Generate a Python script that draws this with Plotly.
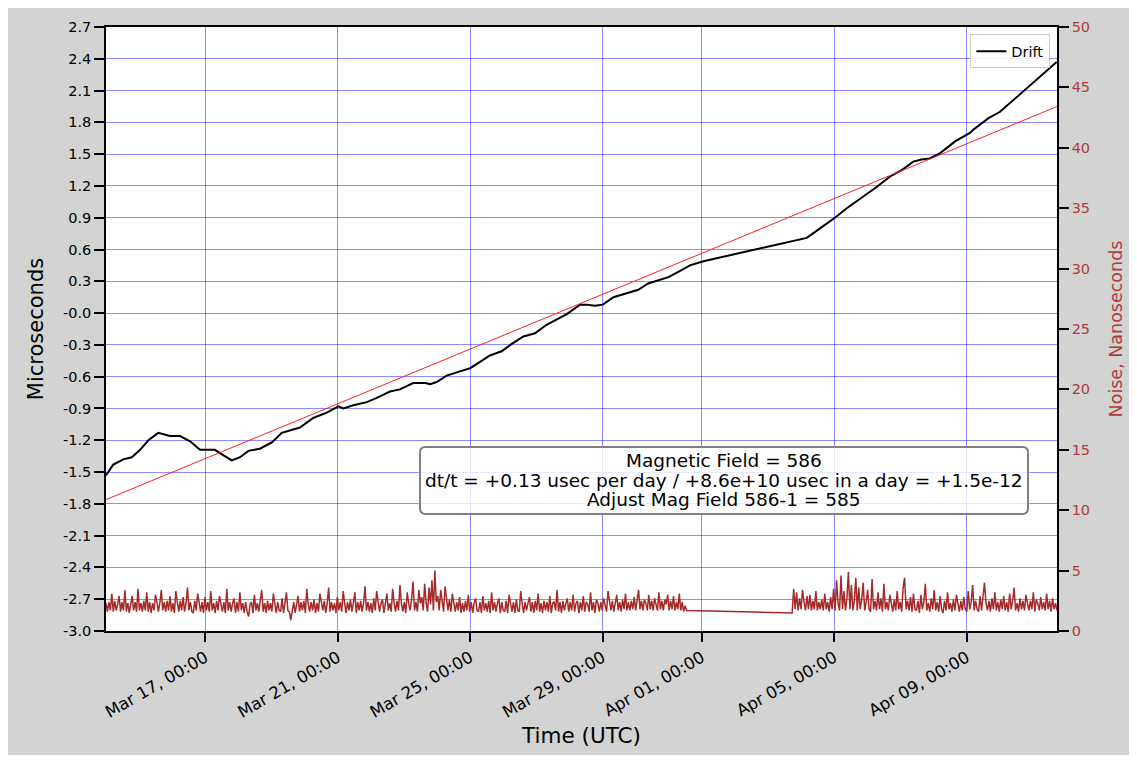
"""Clock drift vs. time with a linear fit, plus the noise trace on a twin axis."""

import numpy as np
import pandas as pd
import plotly.graph_objects as go

START = pd.Timestamp("2024-03-14 00:00")
END_DAY = 28.73  # last sample, days after START

# drift curve (microseconds), sampled at day offsets from START
drift_day = [
    0.00, 0.22, 0.52, 0.78, 1.03, 1.28, 1.58, 1.93, 2.24, 2.54, 2.84, 3.04, 3.29,
    3.54, 3.80, 4.05, 4.30, 4.65, 5.01, 5.31, 5.61, 5.86, 6.26, 6.67, 7.02, 7.17,
    7.47, 7.88, 8.18, 8.58, 8.88, 9.28, 9.64, 9.79, 9.99, 10.29, 10.69, 11.00,
    11.30, 11.60, 11.95, 12.26, 12.61, 12.96, 13.31, 13.62, 13.92, 14.32, 14.52,
    14.77, 15.01, 15.33, 15.73, 16.08, 16.38, 16.69, 16.99, 17.29, 17.64, 18.05,
    21.17, 21.57, 22.02, 22.38, 22.88, 23.28, 23.69, 24.04, 24.39, 24.64, 24.89,
    25.20, 25.65, 26.10, 26.20, 26.66, 27.01, 27.41, 27.82, 28.22, 28.72,
]
drift_usec = [
    -1.53, -1.43, -1.38, -1.36, -1.29, -1.20, -1.13, -1.16, -1.16, -1.21, -1.29,
    -1.29, -1.29, -1.34, -1.39, -1.36, -1.30, -1.28, -1.22, -1.13, -1.10, -1.08,
    -0.99, -0.94, -0.88, -0.90, -0.87, -0.84, -0.80, -0.74, -0.72, -0.66, -0.66,
    -0.67, -0.65, -0.59, -0.55, -0.52, -0.46, -0.40, -0.36, -0.29, -0.22, -0.19,
    -0.11, -0.06, -0.01, 0.08, 0.08, 0.07, 0.08, 0.15, 0.19, 0.22, 0.28, 0.31,
    0.34, 0.39, 0.45, 0.49, 0.71, 0.80, 0.90, 0.99, 1.10, 1.19, 1.29, 1.35, 1.43,
    1.45, 1.46, 1.51, 1.62, 1.70, 1.73, 1.84, 1.90, 2.01, 2.12, 2.23, 2.37,
]

# linear fit end points
fit_day = [0.0, END_DAY]
fit_usec = [-1.76, 1.95]

# noise (nanoseconds): two recording segments with a gap between them
noise_seg1_days = (0.0, 17.54)
noise_seg1 = [
    2.3, 1.6, 2.4, 1.7, 3.1, 1.6, 2.5, 1.7, 2.2, 2.9, 1.6, 2.4, 1.7, 3.4, 1.6, 2.3, 1.5, 2.4, 2.9, 1.7,
    2.4, 1.6, 3.5, 1.7, 2.3, 1.6, 2.5, 1.7, 3.2, 1.6, 2.4, 1.5, 2.3, 1.7, 3.0, 2.4, 1.6, 2.3, 3.4, 1.7,
    2.4, 1.6, 2.5, 1.7, 2.9, 1.6, 2.3, 1.5, 3.3, 2.4, 1.6, 2.5, 1.7, 2.8, 1.6, 2.3, 3.6, 1.7, 2.4, 1.6,
    1.5, 2.5, 1.7, 3.1, 2.3, 1.6, 2.4, 1.5, 2.8, 1.7, 2.4, 1.6, 3.3, 1.7, 2.3, 1.5, 2.5, 1.7, 2.9, 2.2,
    1.6, 2.4, 1.5, 3.5, 1.7, 2.4, 1.6, 2.3, 2.7, 1.5, 2.4, 1.6, 3.2, 1.7, 2.3, 1.5, 2.4, 1.6, 1.2, 2.2,
    2.4, 1.5, 3.0, 1.7, 2.3, 1.6, 2.4, 3.4, 1.6, 2.3, 1.5, 2.5, 1.7, 2.3, 1.6, 3.1, 2.3, 1.5, 2.4, 1.7,
    1.6, 2.7, 1.5, 2.3, 3.2, 1.7, 1.6, 0.9, 1.8, 2.4, 1.5, 2.3, 2.9, 1.6, 2.4, 1.7, 2.5, 1.5, 3.5, 2.2,
    1.6, 2.4, 1.7, 2.6, 1.5, 2.3, 1.6, 3.1, 2.3, 1.7, 2.5, 1.5, 2.3, 3.6, 1.6, 2.4, 1.7, 2.3, 1.5, 2.8,
    1.7, 2.4, 1.6, 3.3, 2.3, 1.5, 2.4, 1.7, 2.6, 1.6, 2.3, 3.2, 1.5, 2.4, 1.7, 2.5, 1.6, 2.3, 3.7, 1.7,
    2.4, 1.6, 2.3, 1.5, 2.7, 1.7, 3.3, 2.4, 1.6, 2.3, 2.6, 1.5, 2.4, 3.1, 1.7, 2.3, 1.6, 3.5, 2.3, 1.6,
    2.5, 1.7, 3.8, 2.3, 1.6, 2.4, 1.5, 3.2, 2.3, 1.7, 2.6, 4.1, 1.7, 2.4, 1.6, 3.4, 2.3, 2.8, 1.7, 3.9,
    2.3, 1.6, 3.6, 2.2, 4.2, 1.7, 5.0, 2.4, 2.9, 1.7, 3.4, 2.3, 1.6, 3.7, 2.4, 1.7, 2.6, 1.6, 3.1, 2.3,
    1.6, 2.4, 1.7, 2.8, 1.5, 2.3, 1.6, 2.5, 1.7, 3.0, 1.6, 2.4, 1.5, 2.3, 2.7, 1.7, 1.6, 2.4, 1.5, 2.9,
    1.7, 2.3, 1.6, 2.5, 1.5, 3.2, 1.7, 2.4, 1.6, 2.3, 2.7, 1.5, 2.4, 1.7, 1.6, 2.5, 1.5, 3.0, 2.3, 1.6,
    2.4, 1.5, 2.6, 1.7, 1.6, 3.3, 2.3, 1.5, 2.4, 1.7, 2.3, 2.8, 1.6, 2.4, 1.5, 2.5, 1.7, 3.1, 1.6, 2.3,
    1.5, 2.5, 1.7, 2.4, 1.6, 2.9, 1.5, 2.3, 2.4, 1.7, 3.4, 1.6, 2.4, 1.5, 2.5, 1.7, 2.3, 2.7, 1.6, 2.4,
    1.7, 3.0, 1.6, 2.3, 2.5, 1.5, 2.4, 1.7, 2.9, 1.6, 2.4, 2.2, 1.6, 3.2, 1.7, 2.4, 1.5, 2.6, 2.3, 1.6,
    2.4, 1.7, 2.7, 2.2, 1.6, 3.3, 2.4, 1.7, 2.5, 1.6, 2.3, 3.0, 1.7, 2.4, 1.6, 2.6, 1.8, 3.1, 1.7, 2.4,
    1.7, 2.5, 1.8, 2.8, 1.7, 2.4, 3.4, 1.8, 2.5, 1.7, 2.6, 2.3, 1.7, 3.0, 1.8, 2.5, 1.7, 2.7, 2.3, 1.7,
    3.2, 1.8, 2.5, 1.7, 2.6, 2.2, 3.0, 1.7, 2.5, 1.8, 2.9, 1.7, 2.4, 1.8, 3.1, 1.7, 2.4, 1.6, 2.1, 1.7,
]
noise_seg2_days = (20.73, END_DAY)
noise_seg2 = [
    1.5, 3.5, 1.8, 3.2, 1.7, 2.7, 1.8, 3.4, 2.4, 1.7, 2.9, 1.8, 3.0, 1.7, 2.5, 1.8, 3.3, 1.7, 2.4, 1.8,
    2.6, 1.7, 3.1, 1.8, 2.4, 1.6, 2.8, 1.8, 3.5, 1.7, 4.2, 2.3, 1.7, 4.6, 1.8, 3.3, 1.7, 2.7, 4.9, 1.8,
    3.8, 1.7, 2.5, 4.4, 1.7, 3.6, 1.8, 2.6, 4.0, 1.7, 2.4, 3.4, 1.8, 1.6, 4.3, 1.8, 2.5, 1.7, 3.2, 1.8,
    2.7, 1.6, 3.9, 1.8, 2.4, 1.7, 3.0, 2.3, 1.6, 2.6, 1.7, 3.3, 1.8, 2.4, 1.6, 3.6, 4.4, 1.8, 2.5, 1.7,
    2.8, 1.6, 3.1, 1.8, 1.7, 2.5, 1.5, 3.0, 1.8, 2.4, 3.9, 1.7, 2.3, 1.6, 2.7, 1.8, 3.4, 1.7, 2.4, 1.6,
    2.9, 1.8, 1.5, 2.5, 1.7, 3.2, 1.8, 2.3, 1.6, 2.6, 1.7, 3.0, 2.3, 1.6, 2.5, 1.7, 2.8, 1.8, 1.6, 3.3,
    1.8, 2.4, 3.8, 1.7, 2.5, 1.8, 1.6, 2.9, 1.7, 3.0, 4.0, 2.3, 1.7, 2.5, 1.6, 2.7, 1.8, 3.2, 1.7, 2.4,
    1.6, 2.6, 1.8, 2.9, 1.7, 2.4, 1.6, 3.1, 1.8, 2.5, 3.6, 1.7, 2.3, 1.6, 2.7, 1.8, 2.5, 1.7, 3.0, 2.3,
    1.7, 2.5, 1.8, 3.2, 1.6, 2.6, 2.3, 1.7, 2.8, 1.8, 2.4, 1.7, 3.1, 1.8, 2.5, 1.6, 2.7, 1.8, 2.3, 1.7,
]

tick_dates = ["2024-03-17", "2024-03-21", "2024-03-25", "2024-03-29",
              "2024-04-01", "2024-04-05", "2024-04-09"]
y_ticks = [2.7, 2.4, 2.1, 1.8, 1.5, 1.2, 0.9, 0.6, 0.3, 0.0, -0.3, -0.6, -0.9,
           -1.2, -1.5, -1.8, -2.1, -2.4, -2.7, -3.0]
y_ticktext = ["2.7", "2.4", "2.1", "1.8", "1.5", "1.2", "0.9", "0.6", "0.3", "-0.0",
              "-0.3", "-0.6", "-0.9", "-1.2", "-1.5", "-1.8", "-2.1", "-2.4", "-2.7", "-3.0"]

info_lines = [
    "Magnetic Field = 586",
    "dt/t = +0.13 usec per day / +8.6e+10 usec in a day = +1.5e-12",
    "Adjust Mag Field 586-1 = 585",
]


def at(days):
    return START + pd.to_timedelta(np.asarray(days, dtype=float), unit="D")


noise_t = np.concatenate([
    at(np.linspace(*noise_seg1_days, len(noise_seg1))),
    at(np.linspace(*noise_seg2_days, len(noise_seg2))),
])
noise_v = noise_seg1 + noise_seg2

FONT = "DejaVu Sans"
GRID = "rgba(0,0,255,0.45)"
BROWN = "#a52a2a"
RED_TXT = "#b03a3a"

fig = go.Figure()
fig.add_trace(go.Scatter(x=at(drift_day), y=drift_usec, mode="lines", name="Drift",
                         line=dict(color="black", width=2)))
fig.add_trace(go.Scatter(x=at(fit_day), y=fit_usec, mode="lines", showlegend=False,
                         line=dict(color="#ff2020", width=1)))
fig.add_trace(go.Scatter(x=noise_t, y=noise_v, mode="lines", yaxis="y2", showlegend=False,
                         line=dict(color=BROWN, width=1.5)))


def rounded_box(x0, y0, x1, y1, rx, ry):
    # rectangle with rounded corners, in paper coordinates
    return (f"M {x0 + rx},{y0} L {x1 - rx},{y0} Q {x1},{y0} {x1},{y0 + ry} "
            f"L {x1},{y1 - ry} Q {x1},{y1} {x1 - rx},{y1} L {x0 + rx},{y1} "
            f"Q {x0},{y1} {x0},{y1 - ry} L {x0},{y0 + ry} Q {x0},{y0} {x0 + rx},{y0} Z")


annotations = [
    dict(xref="paper", yref="paper", x=0.6498, y=yy, xanchor="center", yanchor="middle",
         text=line, showarrow=False, font=dict(size=18.5, color="black"))
    for line, yy in zip(info_lines, [0.2831, 0.2488, 0.2169])
]

tick_ts = pd.to_datetime(tick_dates)
# the page body adds an 8px offset, so the figure is 8px smaller than the window
fig.update_layout(
    width=1129, height=752,
    margin=dict(l=98, r=80, t=19, b=129),
    paper_bgcolor="white", plot_bgcolor="white",
    font=dict(family=FONT, color="black", size=14),
    xaxis=dict(
        type="date", range=[START, at(END_DAY)],
        tickvals=tick_ts, ticktext=[d.strftime("%b %d, 00:00") for d in tick_ts],
        tickangle=-30, tickfont=dict(size=16.5),
        showgrid=True, gridcolor=GRID, gridwidth=1,
        showline=True, mirror=True, linecolor="black", linewidth=1.5,
        ticks="outside", ticklen=9, tickwidth=1.5, tickcolor="black",
        title=dict(text="Time (UTC)", font=dict(size=21.5), standoff=7),
        zeroline=False,
    ),
    yaxis=dict(
        range=[-3.0, 2.7], tickvals=y_ticks, ticktext=y_ticktext, tickfont=dict(size=14.5),
        showgrid=True, gridcolor=GRID, gridwidth=1, zeroline=False,
        showline=True, linecolor="black", linewidth=1.5,
        ticks="outside", ticklen=10, tickwidth=1.5, tickcolor="black",
        title=dict(text="Microseconds", font=dict(size=21), standoff=14),
    ),
    yaxis2=dict(
        overlaying="y", side="right", range=[0, 50], dtick=5,
        showgrid=False, zeroline=False,
        showline=True, linecolor="black", linewidth=1.5,
        ticks="outside", ticklen=10, tickwidth=1.5, tickcolor="black",
        tickfont=dict(color=RED_TXT, size=14.5),
        title=dict(text="Noise, Nanoseconds", font=dict(color=RED_TXT, size=17.5), standoff=21),
    ),
    legend=dict(x=0.993, y=0.988, xanchor="right", yanchor="top",
                bgcolor="rgba(255,255,255,0.85)", bordercolor="#cccccc", borderwidth=1,
                font=dict(size=14.5)),
    annotations=annotations,
    shapes=[
        # grey figure face with a thin white rim, then the white axes face on top of it
        dict(type="rect", xref="paper", yref="paper", x0=-0.103, x1=1.0789, y0=-0.2053, y1=1.0315,
             fillcolor="#d3d3d3", line=dict(width=0), layer="below"),
        dict(type="rect", xref="paper", yref="paper", x0=0, x1=1, y0=0, y1=1,
             fillcolor="white", line=dict(width=0), layer="below"),
        # info text frame
        dict(type="path", xref="paper", yref="paper",
             path=rounded_box(0.3302, 0.1937, 0.9695, 0.3046, 0.006, 0.009),
             fillcolor="rgba(255,255,255,0.8)", line=dict(color="#808080", width=2),
             layer="above"),
    ],
)

fig.write_html("out.html")
